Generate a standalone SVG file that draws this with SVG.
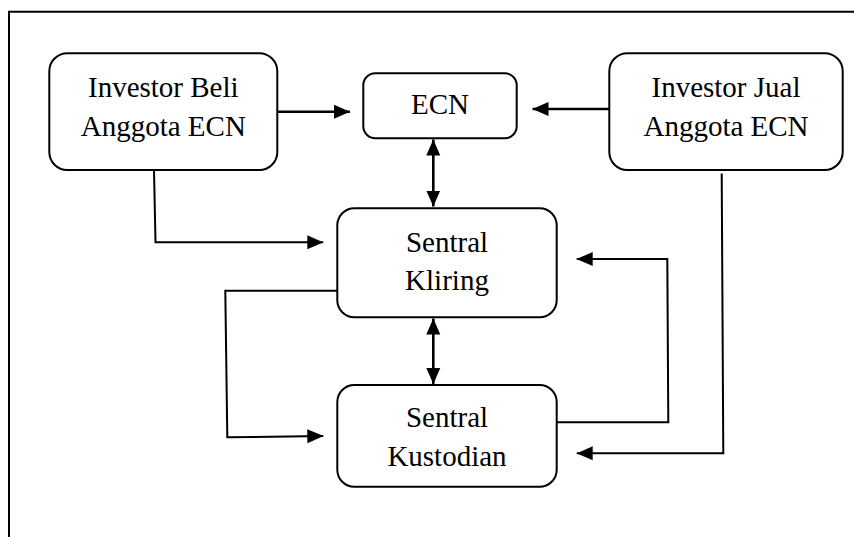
<svg xmlns="http://www.w3.org/2000/svg" width="854" height="537" viewBox="0 0 854 537">
  <defs>
    <marker id="arrow" viewBox="0 0 16 16" refX="16" refY="8" markerWidth="16" markerHeight="16" markerUnits="userSpaceOnUse" orient="auto-start-reverse">
      <path d="M0,1 L16,8 L0,15 Z" fill="#000"/>
    </marker>
    <style>
      .box { fill: #fff; stroke: #000; stroke-width: 2; }
      .label { font-family: 'Liberation Serif', Tinos, 'Times New Roman', 'DejaVu Serif', serif; font-size: 29px; fill: #000; text-anchor: middle; }
      .link { fill: none; stroke: #000; stroke-width: 2; }
      .thick { stroke-width: 2.6; }
      .frame { fill: none; stroke: #000; stroke-width: 2; }
    </style>
  </defs>

  <rect width="854" height="537" fill="#fff"/>

  <!-- open frame: top and left edges only -->
  <path class="frame" d="M9,537 V11.7 H854"/>

  <g id="connectors">
    <!-- investors into ECN -->
    <path class="link thick" d="M277.5,111.7 H350" marker-end="url(#arrow)"/>
    <path class="link thick" d="M610,109 H532.5" marker-end="url(#arrow)"/>
    <!-- ECN <-> Sentral Kliring -->
    <path class="link thick" d="M433.3,139.5 V206.5" marker-start="url(#arrow)" marker-end="url(#arrow)"/>
    <!-- Sentral Kliring <-> Sentral Kustodian -->
    <path class="link thick" d="M433.3,318.5 V384" marker-start="url(#arrow)" marker-end="url(#arrow)"/>
    <!-- Investor Beli down to Sentral Kliring -->
    <path class="link" d="M154,170 L155.5,242.3 H323.3" marker-end="url(#arrow)"/>
    <!-- Sentral Kliring loop to Sentral Kustodian -->
    <path class="link" d="M337.3,290.7 H225.3 L227.3,437.3 L323.3,436" marker-end="url(#arrow)"/>
    <!-- Sentral Kustodian loop back to Sentral Kliring -->
    <path class="link" d="M556.7,422.3 H668.3 L667.3,259 H576.7" marker-end="url(#arrow)"/>
    <!-- Investor Jual down to Sentral Kustodian -->
    <path class="link" d="M721.7,173.5 L723.3,453.3 H576.7" marker-end="url(#arrow)"/>
  </g>

  <g id="investor-beli">
    <rect class="box" x="49.3" y="53.3" width="228" height="116.7" rx="18"/>
    <text class="label" x="163.3" y="97.3" font-family="Liberation Serif, serif">Investor Beli</text>
    <text class="label" x="163.3" y="136" font-family="Liberation Serif, serif">Anggota ECN</text>
  </g>

  <g id="ecn">
    <rect class="box" x="363.3" y="73.3" width="153.4" height="65" rx="12"/>
    <text class="label" x="440" y="114.3" font-family="Liberation Serif, serif">ECN</text>
  </g>

  <g id="investor-jual">
    <rect class="box" x="609.3" y="53.3" width="233.4" height="116.7" rx="18"/>
    <text class="label" x="726" y="97.3" font-family="Liberation Serif, serif">Investor Jual</text>
    <text class="label" x="726" y="136" font-family="Liberation Serif, serif">Anggota ECN</text>
  </g>

  <g id="sentral-kliring">
    <rect class="box" x="337.3" y="208.3" width="219.4" height="109" rx="17"/>
    <text class="label" x="447" y="251.5" font-family="Liberation Serif, serif">Sentral</text>
    <text class="label" x="447" y="289.5" font-family="Liberation Serif, serif">Kliring</text>
  </g>

  <g id="sentral-kustodian">
    <rect class="box" x="337.3" y="385" width="219.4" height="101.7" rx="17"/>
    <text class="label" x="447" y="427.3" font-family="Liberation Serif, serif">Sentral</text>
    <text class="label" x="447" y="466" font-family="Liberation Serif, serif">Kustodian</text>
  </g>
</svg>
